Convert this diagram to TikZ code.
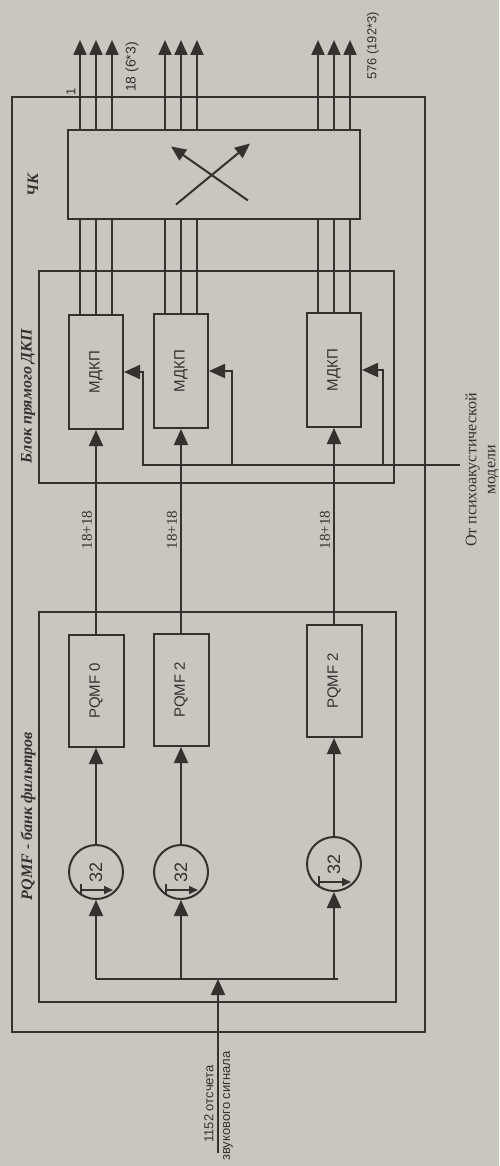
\documentclass[tikz,border=0pt]{standalone}
\usepackage{fontspec}
\setmainfont{Liberation Serif}
\setsansfont{Liberation Sans}
\usetikzlibrary{arrows.meta,calc}

\definecolor{paper}{RGB}{201,197,191}
\definecolor{ink}{RGB}{52,50,47}

\tikzset{
    encl/.style={draw=ink, line width=0.7pt},
    blk/.style={draw=ink, line width=1pt, inner sep=0pt, text=ink,
        font=\sffamily\fontsize{7.5}{9}\selectfont},
    dec/.style={circle, draw=ink, line width=1pt, minimum size=27pt,
        inner sep=0pt, text=ink, font=\sffamily\fontsize{9}{10}\selectfont},
    wire/.style={draw=ink, line width=1pt},
    arr/.style={wire, -{Triangle[length=8pt,width=7pt]}},
    outarr/.style={wire, -{Triangle[length=7.5pt,width=6.5pt]}},
    lbl/.style={rotate=90, inner sep=1pt, text=ink},
    blklbl/.style={lbl, font=\bfseries\itshape\fontsize{8}{9}\selectfont},
    numlbl/.style={lbl, font=\fontsize{7.5}{8}\selectfont},
    sanslbl/.style={lbl, font=\sffamily\fontsize{6.5}{8}\selectfont}
}

\begin{document}
\begin{tikzpicture}[x=0.5pt, y=-0.5pt]

% paper
\fill[paper] (0,0) rectangle (499,1166);
\useasboundingbox (0,0) rectangle (499,1166);

% enclosing frames
\draw[encl, line width=1pt] (12,97) rectangle (425,1032);
\draw[encl] (39,271) rectangle (394,483);
\draw[encl] (39,612) rectangle (396,1002);
\node[blklbl] (cklbl) at (33,185) {ЧК};
\node[blklbl] (dctlbl) at (28,396) {Блок прямого ДКП};
\node[blklbl] (pqmflbl) at (28,816) {PQMF - банк фильтров};

% switch
\node[blk, minimum width=146pt, minimum height=44.5pt] (sw) at (214,174.5) {};
\draw[outarr] ($(sw)+(-38,30)$) -- ($(sw)+(36,-31)$);
\draw[outarr] ($(sw)+(34,26)$) -- ($(sw)+(-43,-28)$);

% MDCT blocks
\node[blk, minimum width=27pt, minimum height=57pt] (m1) at (96,372) {\rotatebox{90}{МДКП}};
\node[blk, minimum width=27pt, minimum height=57pt] (m2) at (181,371) {\rotatebox{90}{МДКП}};
\node[blk, minimum width=27pt, minimum height=57pt] (m3) at (334,370) {\rotatebox{90}{МДКП}};

% PQMF blocks
\node[blk, minimum width=27.5pt, minimum height=56pt] (p1) at (96,691) {\rotatebox{90}{PQMF 0}};
\node[blk, minimum width=27.5pt, minimum height=56pt] (p2) at (181,690) {\rotatebox{90}{PQMF 2}};
\node[blk, minimum width=27.5pt, minimum height=56pt] (p3) at (334,681) {\rotatebox{90}{PQMF 2}};

% decimators
\node[dec] (d1) at (96,872) {\rotatebox{90}{32}};
\node[dec] (d2) at (181,872) {\rotatebox{90}{32}};
\node[dec] (d3) at (334,864) {\rotatebox{90}{32}};
\foreach \i in {1,2,3} {
    \draw[wire, line width=0.8pt] ($(d\i)+(-15,12)$) -- ($(d\i)+(-15,22)$);
    \draw[wire, line width=0.8pt, -{Triangle[length=4.5pt,width=4pt]}]
        ($(d\i)+(-15,18)$) -- ($(d\i)+(17,18)$);
}

% signal path
\foreach \i in {1,2,3} {
    \draw[arr] (d\i) -- (p\i);
    \draw[arr] (p\i) -- (m\i);
}
\node[numlbl] (r1) at (87,530) {18+18};
\node[numlbl] (r2) at (172,530) {18+18};
\node[numlbl] (r3) at (325,530) {18+18};

% MDCT to switch, switch outputs
\coordinate (outtop) at (214,40);
\foreach \i in {1,2,3}
    \foreach \d in {-16,0,16} {
        \draw[wire] ($(m\i.north)+(\d,0)$) -- ($(sw.south -| m\i.north)+(\d,0)$);
        \draw[outarr] ($(sw.north -| m\i.north)+(\d,0)$) -- ($(outtop -| m\i.north)+(\d,0)$);
    }
\node[sanslbl] (o1) at (71,92) {1};
\node[sanslbl, font=\sffamily\fontsize{7}{8}\selectfont] (o2) at (132,67) {18 (6*3)};
\node[sanslbl] (o3) at (373,46) {576 (192*3)};

% psychoacoustic model
\coordinate (psy) at (460,465);
\coordinate (psy1) at (143,465);
\coordinate (psy2) at (232,465);
\coordinate (psy3) at (383,465);
\draw[arr] (psy) -- (psy1) |- (m1.east);
\draw[arr] (psy2) |- (m2.east);
\draw[arr] (psy3) |- (m3.east);
\node[lbl, align=center, font=\fontsize{8}{9.5}\selectfont] (psylbl) at (482,470)
    {От психоакустической\\модели};

% input samples
\coordinate (bus) at (218,979);
\coordinate (src) at (218,1153);
\draw[wire] (d1 |- bus) -- ($(d3 |- bus)+(4,0)$);
\foreach \i in {1,2,3}
    \draw[arr] (d\i |- bus) -- (d\i);
\draw[arr] (src) -- (bus);
\node[sanslbl] (in1) at (209,1104) {1152 отсчета};
\node[sanslbl] (in2) at (228,1106) {звукового сигнала};

\end{tikzpicture}
\end{document}
